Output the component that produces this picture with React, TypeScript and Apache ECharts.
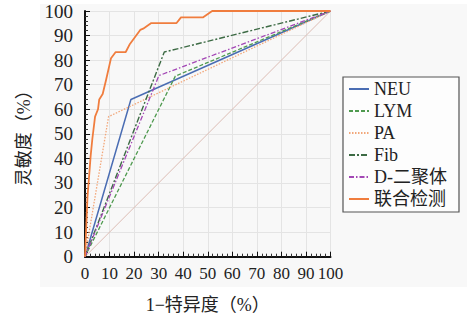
import React, { useEffect, useRef } from "react";
import * as echarts from "echarts";

const xTicks = [0, 10, 20, 30, 40, 50, 60, 70, 80, 90, 100];
const seriesNames = ["NEU", "LYM", "PA", "Fib", "D-二聚体", "联合检测"];

const neuX = [0, 18.7, 100];
const neuY = [0, 64, 100];
const lymX = [0, 36.8, 100];
const lymY = [0, 73.5, 100];
const paX = [0, 9.6, 100];
const paY = [0, 57, 100];
const fibX = [0, 32.3, 100];
const fibY = [0, 83.3, 100];
const ddX = [0, 30.1, 100];
const ddY = [0, 73.7, 100];
const combX = [0, 0.5, 1, 2.3, 3, 4.1, 5.3, 5.8, 7.2, 8.6, 10.6, 12.5, 16.6, 18.3, 22.5, 23.7, 27, 37.3, 39.1, 48, 51.8, 100];
const combY = [0, 12, 24, 41, 48, 57, 60, 64, 66.2, 72, 80.8, 83.3, 83.3, 86.6, 92.3, 92.8, 95.1, 95.1, 97.4, 97.4, 100, 100];
const refX = [0, 100];
const refY = [0, 100];

const zip = (xs: number[], ys: number[]) => xs.map((x, i) => [x, ys[i]]);

const serif = "'Liberation Serif', 'Noto Sans CJK SC', serif";

export default function App() {
  const ref = useRef<HTMLDivElement>(null);
  useEffect(() => {
    if (!ref.current) return;
    const chart = echarts.init(ref.current, null, { renderer: "svg" });
    const mk = (name: string, xs: number[], ys: number[], color: string, width: number, type: any, z = 2) => ({
      name,
      type: "line",
      data: zip(xs, ys),
      showSymbol: false,
      symbol: "none",
      z,
      lineStyle: { color, width, type },
      itemStyle: { color },
    });
    chart.setOption({
      animation: false,
      graphic: [
        {
          type: "rect",
          z: -10,
          silent: true,
          shape: { x: 40, y: 4, width: 427, height: 283 },
          style: { fill: "#f8f8f8" },
        },
      ],
      grid: { left: 85, top: 11, width: 245.5, height: 245.7, containLabel: false },
      legend: {
        data: seriesNames,
        orient: "vertical",
        left: 343,
        top: 77,
        itemWidth: 20,
        itemHeight: 14,
        itemGap: 4,
        padding: [3, 12, 4, 5],
        borderColor: "#555",
        borderWidth: 1.2,
        backgroundColor: "#fdfdfd",
        itemStyle: { opacity: 0, borderWidth: 0 },
        textStyle: { fontFamily: serif, fontSize: 18, color: "#222" },
      },
      xAxis: {
        type: "value",
        min: 0,
        max: 100,
        interval: 10,
        name: "1−特异度（%）",
        nameLocation: "middle",
        nameGap: 39,
        nameTextStyle: { fontFamily: serif, fontSize: 18, color: "#222" },
        axisLine: { show: true, lineStyle: { color: "#111", width: 2 } },
        axisTick: { show: true, inside: true, length: 5, lineStyle: { color: "#111" } },
        minorTick: { show: true, splitNumber: 5, length: 3, lineStyle: { color: "#333" } },
        axisLabel: { fontFamily: serif, fontSize: 17, color: "#222", margin: 8 },
        splitLine: { show: true, lineStyle: { color: "#e4e4e4", width: 1 } },
      },
      yAxis: {
        type: "value",
        min: 0,
        max: 100,
        interval: 10,
        name: "灵敏度（%）",
        nameLocation: "middle",
        nameGap: 52,
        nameRotate: 90,
        nameTextStyle: { fontFamily: serif, fontSize: 18, color: "#222" },
        axisLine: { show: true, lineStyle: { color: "#111", width: 2 } },
        axisTick: { show: true, inside: true, length: 5, lineStyle: { color: "#111" } },
        minorTick: { show: true, splitNumber: 5, length: 3, lineStyle: { color: "#333" } },
        axisLabel: { fontFamily: serif, fontSize: 19, color: "#222", margin: 12 },
        splitLine: { show: true, lineStyle: { color: "#e4e4e4", width: 1 } },
      },
      series: [
        mk("参考线", refX, refY, "#dcbcb4", 1, "solid", 1),
        mk("NEU", neuX, neuY, "#4a6db3", 1.5, "solid"),
        mk("LYM", lymX, lymY, "#4f9a4f", 1.3, [4, 2]),
        mk("PA", paX, paY, "#f2a77a", 1.3, [1.5, 1.5]),
        mk("Fib", fibX, fibY, "#3d6b45", 1.4, [6, 2, 2, 2]),
        mk("D-二聚体", ddX, ddY, "#a347b5", 1.3, [5, 2, 1.5, 2]),
        mk("联合检测", combX, combY, "#f07d3e", 1.8, "solid", 3),
      ],
    });
    return () => chart.dispose();
  }, []);
  return (
    <div
      ref={ref}
      style={{ position: "absolute", left: 0, top: 0, width: 467, height: 321 }}
    />
  );
}
